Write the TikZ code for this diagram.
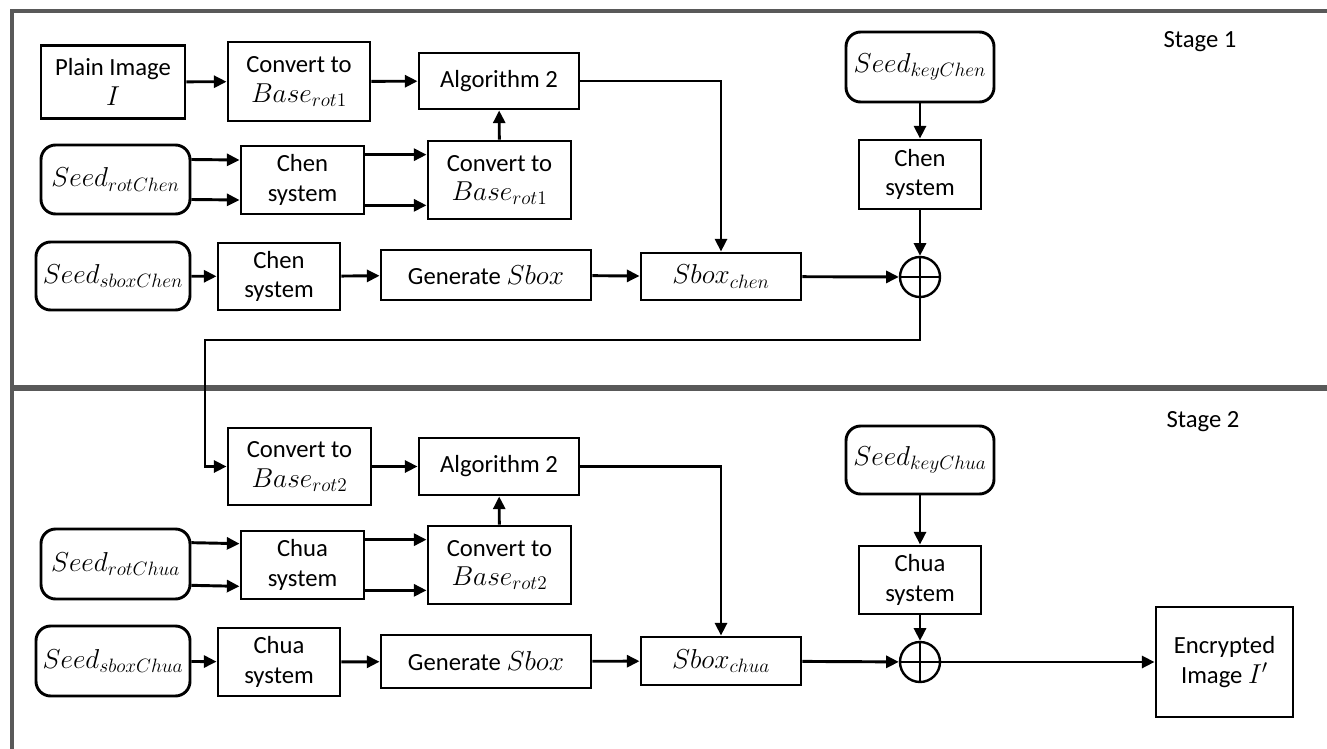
\RequirePackage{fix-cm}
\documentclass[tikz,border=0pt]{standalone}
\usepackage{fontspec}
\setmainfont{Carlito}
\usetikzlibrary{arrows.meta, calc}
\definecolor{framegray}{RGB}{89, 89, 89}
\DeclareMathSizes{18.5}{20.5}{14.5}{11}

\begin{document}
\begin{tikzpicture}[
  x=0.75pt, y=-0.75pt,
  every node/.style={font=\fontsize{18.5}{22}\selectfont, align=center, inner sep=1pt},
  wh/.style 2 args={minimum width=#1*0.75pt, minimum height=#2*0.75pt},
  blk/.style={draw, line width=2.2pt},
  seed/.style={blk, rounded corners=11pt},
  xor/.style={circle, draw, line width=1.8pt, minimum size=30pt,
    path picture={\draw[line width=1.8pt] (path picture bounding box.north) -- (path picture bounding box.south)
      (path picture bounding box.west) -- (path picture bounding box.east);}},
  arr/.style={-{Triangle[length=9.5pt, width=9pt]}, line width=2.2pt},
  frame/.style={framegray, line width=3pt},
]
  \useasboundingbox (0,0) rectangle (1327,749);

  % stage frames
  \draw[frame] (12,749) -- (12,11) -- (1327,11);
  \draw[framegray, line width=5pt] (12,388) -- (1327,388);
  \node (stage1) at (1200,42)  {Stage 1};
  \node (stage2) at (1203,422) {Stage 2};

  % stage 1: Chen
  \node[blk, wh={144}{73}]  (plain)     at (113,82)    {Plain Image\\$I$};
  \node[blk, wh={142}{79}]  (convA1)    at (299,81.5)  {Convert to\\$Base_{rot1}$};
  \node[blk, wh={160}{56}]  (algA)      at (499,81)    {Algorithm 2};
  \node[seed, wh={149}{69}] (seedRotA)  at (115.5,179.5) {$Seed_{rotChen}$};
  \node[blk, wh={123}{68}]  (chenA)     at (302.5,180) {Chen\\system};
  \node[blk, wh={143}{78}]  (convA2)    at (499.5,180) {Convert to\\$Base_{rot1}$};
  \node[seed, wh={154}{68}] (seedSboxA) at (113,276)   {$Seed_{sboxChen}$};
  \node[blk, wh={122}{67}]  (chenB)     at (279,276.5) {Chen\\system};
  \node[blk, wh={210}{50}]  (genA)      at (486,275)   {Generate $Sbox$};
  \node[blk, wh={160}{47}]  (sboxA)     at (721,276.5) {$Sbox_{chen}$};
  \node[seed, wh={148}{70}] (seedKeyA)  at (920,67)    {$Seed_{keyChen}$};
  \node[blk, wh={122}{69}]  (chenC)     at (920,174.5) {Chen\\system};
  \node[xor] (xorA) at (920,277) {};

  \draw[arr] (plain) -- (convA1);
  \draw[arr] (convA1) -- (algA);
  \draw[arr] ([yshift=15pt]seedRotA.east) -- ([yshift=15pt]chenA.west);
  \draw[arr] ([yshift=-15pt]seedRotA.east) -- ([yshift=-15pt]chenA.west);
  \draw[arr] ([yshift=19pt]chenA.east) -- ([yshift=19pt]convA2.west);
  \draw[arr] ([yshift=-19pt]chenA.east) -- ([yshift=-19pt]convA2.west);
  \draw[arr] (convA2) -- (algA);
  \draw[arr] (algA.east) -| (sboxA.north);
  \draw[arr] (seedSboxA) -- (chenB);
  \draw[arr] (chenB) -- (genA);
  \draw[arr] (genA) -- (sboxA);
  \draw[arr] (sboxA) -- (xorA);
  \draw[arr] (seedKeyA) -- (chenC);
  \draw[arr] (chenC) -- (xorA);

  % stage 2: Chua
  \node[blk, wh={143}{77}]  (convB1)    at (299.5,466.5) {Convert to\\$Base_{rot2}$};
  \node[blk, wh={160}{57}]  (algB)      at (499,466.5) {Algorithm 2};
  \node[seed, wh={149}{70}] (seedRotB)  at (115.5,564) {$Seed_{rotChua}$};
  \node[blk, wh={123}{68}]  (chuaA)     at (302.5,565) {Chua\\system};
  \node[blk, wh={143}{78}]  (convB2)    at (499.5,565) {Convert to\\$Base_{rot2}$};
  \node[seed, wh={154}{70}] (seedSboxB) at (113,661)   {$Seed_{sboxChua}$};
  \node[blk, wh={122}{68}]  (chuaB)     at (279,662)   {Chua\\system};
  \node[blk, wh={210}{53}]  (genB)      at (486,661.5) {Generate $Sbox$};
  \node[blk, wh={160}{48}]  (sboxB)     at (721,661)   {$Sbox_{chua}$};
  \node[seed, wh={148}{68}] (seedKeyB)  at (920,460)   {$Seed_{keyChua}$};
  \node[blk, wh={122}{68}]  (chuaC)     at (920,580)   {Chua\\system};
  \node[xor] (xorB) at (920,662) {};
  \node[blk, wh={137}{110}] (enc)       at (1224.5,662) {Encrypted\\Image $I'$};

  \coordinate (turnA) at (205,340);
  \draw[arr] (xorA.south) |- (turnA) |- (convB1.west);

  \draw[arr] (convB1) -- (algB);
  \draw[arr] ([yshift=16pt]seedRotB.east) -- ([yshift=16pt]chuaA.west);
  \draw[arr] ([yshift=-16pt]seedRotB.east) -- ([yshift=-16pt]chuaA.west);
  \draw[arr] ([yshift=19pt]chuaA.east) -- ([yshift=19pt]convB2.west);
  \draw[arr] ([yshift=-19pt]chuaA.east) -- ([yshift=-19pt]convB2.west);
  \draw[arr] (convB2) -- (algB);
  \draw[arr] (algB.east) -| (sboxB.north);
  \draw[arr] (seedSboxB) -- (chuaB);
  \draw[arr] (chuaB) -- (genB);
  \draw[arr] (genB) -- (sboxB);
  \draw[arr] (sboxB) -- (xorB);
  \draw[arr] (seedKeyB) -- (chuaC);
  \draw[arr] (chuaC) -- (xorB);
  \draw[arr] (xorB) -- (enc);
\end{tikzpicture}
\end{document}
